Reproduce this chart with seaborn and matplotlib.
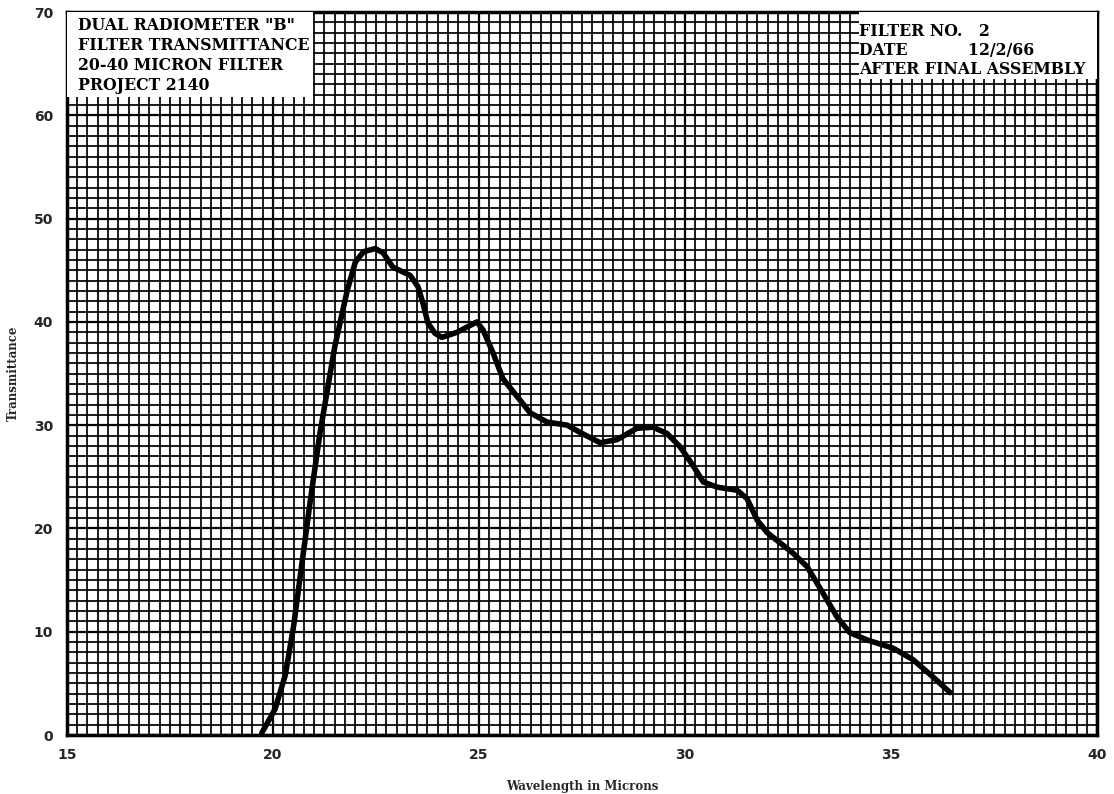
import numpy as np
import pandas as pd
import matplotlib
matplotlib.use("Agg")
import matplotlib.pyplot as plt
from matplotlib.ticker import MultipleLocator
from matplotlib.patches import Rectangle
import seaborn as sns

# Data
wavelength = [19.73, 20.05, 20.3, 20.5, 20.7, 20.9, 21.14, 21.5, 21.8, 22.0, 22.2, 22.48,
              22.67, 22.91, 23.33, 23.52, 23.64, 23.76, 23.93, 24.1, 24.47, 24.95, 25.1, 25.34,
              25.58, 26.24, 26.65, 27.14, 27.45, 27.94, 28.35, 28.83, 29.22, 29.56, 29.88, 30.19,
              30.44, 30.78, 31.26, 31.5, 31.75, 31.99, 32.62, 32.96, 33.35, 33.69, 34.0, 34.42,
              35.05, 35.53, 36.02, 36.43]
transmittance = [0.2, 2.5, 5.8, 10.5, 16.5, 22.5, 29.2, 37.6, 43.0, 45.8, 46.8, 47.1,
                 46.7, 45.3, 44.5, 43.4, 41.8, 39.9, 38.9, 38.5, 39.0, 40.0, 39.2, 37.0,
                 34.5, 31.2, 30.3, 30.0, 29.3, 28.3, 28.6, 29.7, 29.8, 29.2, 27.9, 26.1,
                 24.5, 24.0, 23.7, 22.9, 20.8, 19.6, 17.6, 16.3, 13.7, 11.4, 9.9, 9.2,
                 8.4, 7.3, 5.6, 4.1]
x_ticks = [15, 20, 25, 30, 35, 40]
y_ticks = [0, 10, 20, 30, 40, 50, 60, 70]
title_left = ['DUAL RADIOMETER "B"', 'FILTER TRANSMITTANCE', '20-40 MICRON FILTER', 'PROJECT 2140']
title_right = ['FILTER NO.   2', 'DATE           12/2/66', 'AFTER FINAL ASSEMBLY']

df = pd.DataFrame({"Wavelength": wavelength, "Transmittance": transmittance})

sns.set_theme(style="white")
fig = plt.figure(figsize=(11.14, 7.94), dpi=100)
ax = fig.add_axes([0.060, 0.0743, 0.925, 0.9105])

ax.set_xlim(15, 40)
ax.set_ylim(0, 70)
ax.xaxis.set_major_locator(MultipleLocator(5))
ax.yaxis.set_major_locator(MultipleLocator(10))
ax.xaxis.set_minor_locator(MultipleLocator(0.25))
ax.yaxis.set_minor_locator(MultipleLocator(1))
ax.set_axisbelow(True)
ax.grid(which="minor", color="black", lw=1.25)
ax.grid(which="major", color="black", lw=1.6)

sns.lineplot(data=df, x="Wavelength", y="Transmittance", ax=ax, color="black",
             lw=4.0, sort=False, zorder=5, solid_capstyle="round", solid_joinstyle="round")

ax.set_xticks(x_ticks)
ax.set_yticks(y_ticks)
ax.set_xticklabels([str(v) for v in x_ticks], fontsize=10, fontweight="bold", family="DejaVu Sans")
ax.set_yticklabels([str(v) for v in y_ticks], fontsize=10, fontweight="bold", family="DejaVu Sans")
ax.tick_params(which="both", length=0, pad=10)
ax.tick_params(axis="x", pad=9)

for s in ax.spines.values():
    s.set_visible(True)
    s.set_color("black")
    s.set_linewidth(2.5)

ax.set_xlabel("Wavelength in Microns", fontsize=8.5, fontweight="bold", family="DejaVu Serif")
ax.set_ylabel("Transmittance", fontsize=8.5, fontweight="bold", family="DejaVu Serif")
ax.xaxis.set_label_coords(0.5, -0.062)
ax.yaxis.set_label_coords(-0.046, 0.5)

# White label boxes (axes-fraction coordinates)
ax.add_patch(Rectangle((0.0, 0.882), 0.239, 0.118, transform=ax.transAxes,
                       facecolor="white", edgecolor="none", zorder=6))
ax.add_patch(Rectangle((0.769, 0.907), 0.231, 0.093, transform=ax.transAxes,
                       facecolor="white", edgecolor="none", zorder=6))

for i, t in enumerate(title_left):
    fig.text(78 / 1114, 1 - (25 + 20 * i) / 794, t, fontsize=11.3, fontweight="bold",
             family="DejaVu Serif", va="center", ha="left", zorder=7, color="black")
for i, t in enumerate(title_right):
    fig.text(859 / 1114, 1 - (31 + 19.5 * i) / 794, t, fontsize=11.3, fontweight="bold",
             family="DejaVu Serif", va="center", ha="left", zorder=7, color="black")

fig.savefig("out.png", dpi=100)
